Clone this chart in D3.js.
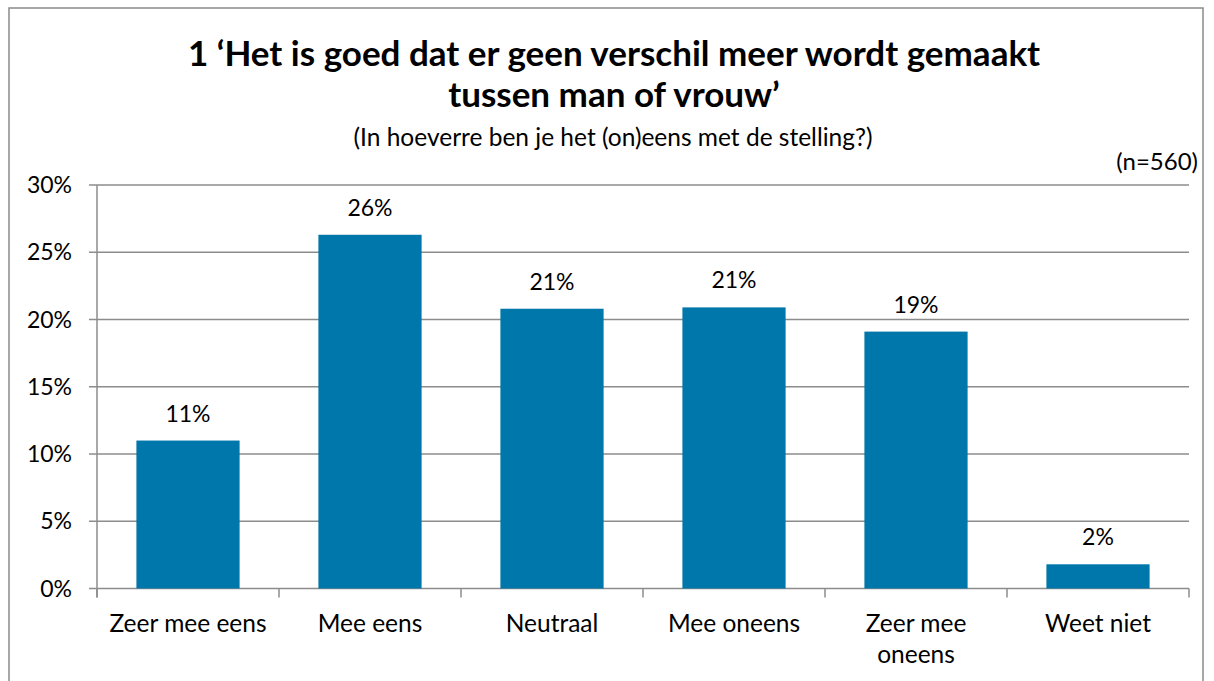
<!DOCTYPE html>
<html>
<head>
<meta charset="utf-8">
<script src="https://cdn.jsdelivr.net/npm/d3@7"></script>
<style>
  body { margin: 0; background: #fff; }
  svg text { font-family: Lato, "Open Sans", sans-serif; fill: #000; }
</style>
</head>
<body>
<svg id="chart" width="1214" height="681"></svg>
<script>
const categories = ['Zeer mee eens', 'Mee eens', 'Neutraal', 'Mee oneens', 'Zeer mee oneens', 'Weet niet'];
const values = [11.0, 26.3, 20.8, 20.9, 19.1, 1.8];
const labels = ['11%', '26%', '21%', '21%', '19%', '2%'];
const yTicks = [0, 5, 10, 15, 20, 25, 30];

const svg = d3.select('#chart');

// outer frame
svg.append('rect')
  .attr('x', 9).attr('y', 8)
  .attr('width', 1194).attr('height', 690)
  .attr('fill', 'none')
  .attr('stroke', '#8a8a8a')
  .attr('stroke-width', 1.5);

// titles
svg.append('text')
  .attr('x', 614).attr('y', 66)
  .attr('text-anchor', 'middle')
  .attr('font-size', 35).attr('font-weight', 'bold')
  .text('1 \u2018Het is goed dat er geen verschil meer wordt gemaakt');
svg.append('text')
  .attr('x', 614).attr('y', 107)
  .attr('text-anchor', 'middle')
  .attr('font-size', 35).attr('font-weight', 'bold')
  .text('tussen man of vrouw\u2019');
svg.append('text')
  .attr('x', 613).attr('y', 146)
  .attr('text-anchor', 'middle')
  .attr('font-size', 24.5)
  .text('(In hoeverre ben je het (on)eens met de stelling?)');
svg.append('text')
  .attr('x', 1198).attr('y', 170)
  .attr('text-anchor', 'end')
  .attr('font-size', 24)
  .text('(n=560)');

const plotLeft = 97, plotRight = 1189, plotTop = 185, plotBottom = 588.5;

const x = d3.scaleBand()
  .domain(categories)
  .range([plotLeft, plotRight])
  .paddingInner(0.433)
  .paddingOuter(0.2165);

const y = d3.scaleLinear()
  .domain([0, 30])
  .range([plotBottom, plotTop]);

// gridlines
svg.append('g')
  .selectAll('line')
  .data(yTicks)
  .join('line')
  .attr('x1', plotLeft - 8).attr('x2', plotRight)
  .attr('y1', d => y(d)).attr('y2', d => y(d))
  .attr('stroke', '#8c8c8c')
  .attr('stroke-width', 1.5);

// y axis line
svg.append('line')
  .attr('x1', plotLeft).attr('x2', plotLeft)
  .attr('y1', plotTop).attr('y2', plotBottom + 9)
  .attr('stroke', '#8c8c8c').attr('stroke-width', 1.5);

// y tick labels
svg.append('g')
  .selectAll('text')
  .data(yTicks)
  .join('text')
  .attr('x', 72)
  .attr('y', d => y(d) + 8)
  .attr('text-anchor', 'end')
  .attr('font-size', 23)
  .text(d => d + '%');

// category ticks between bands
svg.append('g')
  .selectAll('line')
  .data(d3.range(categories.length + 1).map(i => plotLeft + i * (plotRight - plotLeft) / categories.length))
  .join('line')
  .attr('x1', d => d).attr('x2', d => d)
  .attr('y1', plotBottom).attr('y2', plotBottom + 9)
  .attr('stroke', '#8c8c8c').attr('stroke-width', 1.5);

// bars
svg.append('g')
  .selectAll('rect')
  .data(values)
  .join('rect')
  .attr('x', (d, i) => x(categories[i]))
  .attr('width', x.bandwidth())
  .attr('y', d => y(d))
  .attr('height', d => plotBottom - y(d))
  .attr('fill', '#0077ab');

// value labels
svg.append('g')
  .selectAll('text')
  .data(values)
  .join('text')
  .attr('x', (d, i) => x(categories[i]) + x.bandwidth() / 2)
  .attr('y', d => y(d) - 19)
  .attr('text-anchor', 'middle')
  .attr('font-size', 23)
  .text((d, i) => labels[i]);

// category labels, wrap the long one
const catLines = {'Zeer mee oneens': ['Zeer mee', 'oneens']};
categories.forEach(c => {
  const lines = catLines[c] || [c];
  const t = svg.append('text')
    .attr('text-anchor', 'middle')
    .attr('font-size', 24.5);
  lines.forEach((l, j) => {
    t.append('tspan')
      .attr('x', x(c) + x.bandwidth() / 2)
      .attr('y', 632 + j * 31)
      .text(l);
  });
});
</script>
</body>
</html>
